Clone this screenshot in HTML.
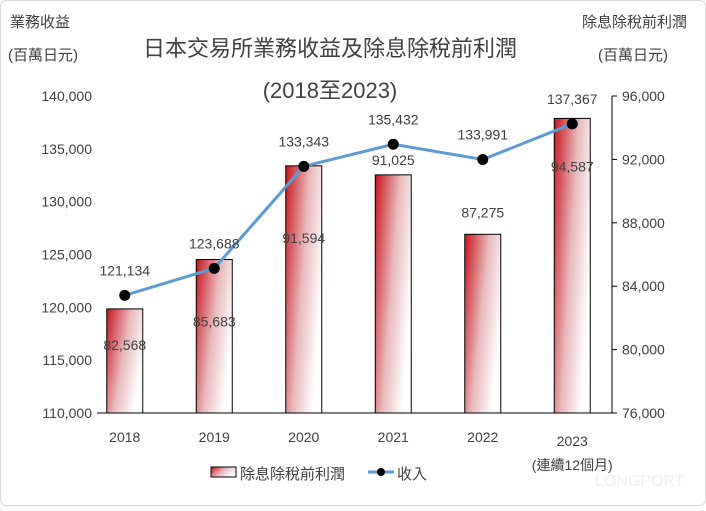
<!DOCTYPE html>
<html><head><meta charset="utf-8"><style>
body{margin:0;background:#fff;}
svg text{font-family:"Liberation Sans","Noto Sans CJK TC",sans-serif;}
</style></head><body>
<svg id="chart" width="706" height="506" viewBox="0 0 706 506" xmlns="http://www.w3.org/2000/svg">
<defs>
<linearGradient id="barGrad" x1="0" y1="0" x2="1" y2="0.5">
<stop offset="0" stop-color="#c8141c"/><stop offset="0.55" stop-color="#e8b9bb"/><stop offset="1" stop-color="#ffffff"/>
</linearGradient>
</defs>
<rect x="0.5" y="0.5" width="705" height="505" rx="6" fill="#fff" stroke="#d9d9d9"/>
<text x="330" y="56" font-size="22" fill="#404040" text-anchor="middle">日本交易所業務收益及除息除稅前利潤</text>
<text x="330" y="98" font-size="22" fill="#404040" text-anchor="middle">(2018至2023)</text>
<text x="10" y="27" font-size="15" fill="#404040">業務收益</text>
<text x="8" y="60" font-size="15" fill="#404040">(百萬日元)</text>
<text x="582" y="27" font-size="15" fill="#404040">除息除稅前利潤</text>
<text x="598" y="60" font-size="15" fill="#404040">(百萬日元)</text>
<g id="plot"></g>
<g>
<rect x="211" y="467" width="25" height="10" fill="url(#barGrad)" stroke="#000" stroke-width="1"/>
<text x="240" y="479" font-size="15" fill="#404040">除息除稅前利潤</text>
<line x1="368" y1="472" x2="394" y2="472" stroke="#5b9bd5" stroke-width="3"/>
<circle cx="381" cy="472" r="4" fill="#000"/>
<text x="397" y="479" font-size="15" fill="#404040">收入</text>
</g>
<text x="595" y="486" font-size="16" fill="#eeeeee">LONGPORT</text>
</svg>
<script>
const categories=["2018","2019","2020","2021","2022","2023"];
const ebit=[82568,85683,91594,91025,87275,94587];
const revenue=[121134,123688,133343,135432,133991,137367];
const leftTicks=[110000,115000,120000,125000,130000,135000,140000];
const rightTicks=[76000,80000,84000,88000,92000,96000];
const labelDy=[36,62,72,-15,-22,48];

const NS="http://www.w3.org/2000/svg";
const g=document.getElementById('plot');
const topY=96,botY=413,x0=80,step=89.5;
const yL=v=>botY-(v-110000)/30000*(botY-topY);
const yR=v=>botY-(v-76000)/20000*(botY-topY);
const xC=i=>x0+step*(i+0.5);
function mk(tag,attrs,txt){const e=document.createElementNS(NS,tag);for(const k in attrs)e.setAttribute(k,attrs[k]);if(txt!==undefined)e.textContent=txt;g.appendChild(e);return e;}
const fmt=v=>v.toLocaleString('en-US');

leftTicks.forEach(t=>{const e=mk('text',{x:92,y:yL(t)+5,'font-size':14,fill:'#404040','text-anchor':'end'},fmt(t));

});
rightTicks.forEach(t=>{const e=mk('text',{x:622,y:yR(t)+5,'font-size':14,fill:'#404040'},fmt(t));


const tk=mk('line',{x1:612,x2:617,y1:yR(t),y2:yR(t),stroke:'#000'});

});

ebit.forEach((v,i)=>{const r=mk('rect',{x:xC(i)-18,y:yR(v),width:36,height:botY-yR(v),fill:'url(#barGrad)',stroke:'#000','stroke-width':1});


const t=mk('text',{x:xC(i),y:yR(v)+labelDy[i]+5,'font-size':14,fill:'#404040','text-anchor':'middle'},fmt(v));

});

const xa=mk('line',{x1:97,x2:612,y1:botY,y2:botY,stroke:'#000'});


const ra=mk('line',{x1:612,x2:612,y1:topY,y2:botY,stroke:'#000'});



categories.forEach((c,i)=>{const t=mk('text',{x:xC(i),y:i==5?446:442,'font-size':14,fill:'#404040','text-anchor':'middle'},c);

});
const note=mk('text',{x:xC(5),y:470,'font-size':14,fill:'#404040','text-anchor':'middle'},'(連續12個月)');



const pl=mk('polyline',{points:revenue.map((v,i)=>xC(i)+','+yL(v)).join(' '),fill:'none',stroke:'#5b9bd5','stroke-width':3});


revenue.forEach((v,i)=>{const c=mk('circle',{cx:xC(i),cy:yL(v),r:5.5,fill:'#000'});


const t=mk('text',{x:xC(i),y:yL(v)-20,'font-size':14,fill:'#404040','text-anchor':'middle'},fmt(v));

});
</script>
</body></html>
